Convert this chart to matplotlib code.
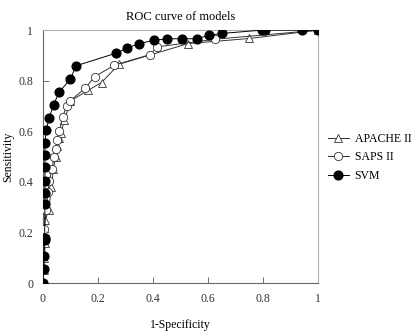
import matplotlib
matplotlib.use("Agg")
import matplotlib.pyplot as plt

plt.rcParams['font.family'] = ['Liberation Serif', 'DejaVu Serif']

# ROC points (1-specificity, sensitivity)
apache_fpr = [0, 0.003, 0.005, 0.008, 0.008, 0.022, 0.03, 0.038, 0.046, 0.05, 0.058, 0.065,
              0.078, 0.1, 0.165, 0.213, 0.276, 0.528, 0.75, 1.0]
apache_tpr = [0, 0.05, 0.1, 0.157, 0.25, 0.29, 0.38, 0.45, 0.5, 0.54, 0.575, 0.593,
              0.644, 0.72, 0.763, 0.793, 0.865, 0.947, 0.967, 1.0]

saps_fpr = [0, 0.002, 0.005, 0.012, 0.018, 0.023, 0.033, 0.04, 0.047, 0.052, 0.06, 0.071,
            0.086, 0.098, 0.153, 0.188, 0.26, 0.388, 0.416, 0.625, 1.0]
saps_tpr = [0, 0.17, 0.214, 0.289, 0.36, 0.404, 0.45, 0.5, 0.532, 0.565, 0.603, 0.655,
            0.702, 0.72, 0.77, 0.816, 0.862, 0.903, 0.934, 0.964, 1.0]

svm_fpr = [0, 0.002, 0.004, 0.006, 0.006, 0.007, 0.007, 0.007, 0.007, 0.007, 0.007, 0.012,
           0.022, 0.039, 0.059, 0.099, 0.12, 0.266, 0.305, 0.35, 0.404, 0.452, 0.504, 0.559,
           0.605, 0.65, 0.795, 0.807, 0.942, 1.0]
svm_tpr = [0, 0.054, 0.107, 0.17, 0.18, 0.312, 0.357, 0.404, 0.457, 0.506, 0.552, 0.606,
           0.652, 0.706, 0.756, 0.805, 0.859, 0.909, 0.929, 0.947, 0.96, 0.966, 0.966, 0.966,
           0.98, 0.987, 1.0, 1.0, 1.0, 1.0]

ticks = [0, 0.2, 0.4, 0.6, 0.8, 1]
tick_labels = ['0', '0.2', '0.4', '0.6', '0.8', '1']

fig = plt.figure(figsize=(4.15, 3.35), dpi=100)
ax = fig.add_axes([0.1036, 0.155, 0.6627, 0.755])

ax.plot(apache_fpr, apache_tpr, color='#333333', lw=0.7, marker='^', ms=6,
        mfc='white', mec='#333333', mew=0.6, label='APACHE II', zorder=2)
ax.plot(saps_fpr, saps_tpr, color='#333333', lw=0.7, marker='o', ms=6,
        mfc='white', mec='#333333', mew=0.6, label='SAPS II', zorder=3)
ax.plot(svm_fpr, svm_tpr, color='black', lw=0.7, marker='o', ms=6.3,
        mfc='black', mec='black', label='SVM', zorder=4)

ax.set_xlim(0, 1)
ax.set_ylim(0, 1)
ax.set_xticks(ticks)
ax.set_xticklabels(tick_labels)
ax.set_yticks(ticks)
ax.set_yticklabels(tick_labels)
ax.tick_params(direction='in', length=4, width=0.6, labelsize=8.5, color='#555555',
               labelcolor='#333333', pad=7)
for s in ['left', 'bottom']:
    ax.spines[s].set_color('#666666')
    ax.spines[s].set_linewidth(0.8)
for s in ['top', 'right']:
    ax.spines[s].set_color('#b0b0b0')
    ax.spines[s].set_linewidth(0.8)

ax.set_title('ROC curve of models', fontsize=9, pad=7)
ax.set_xlabel('1-Specificity', fontsize=8.5, labelpad=10)
ax.set_ylabel('Sensitivity', fontsize=8.5, labelpad=3)

fig.legend(loc='upper left', bbox_to_anchor=(0.775, 0.621), frameon=False,
           fontsize=8.5, handlelength=1.8, labelspacing=0.55, borderpad=0,
           handletextpad=0.5)

fig.savefig('out.png', dpi=100)
